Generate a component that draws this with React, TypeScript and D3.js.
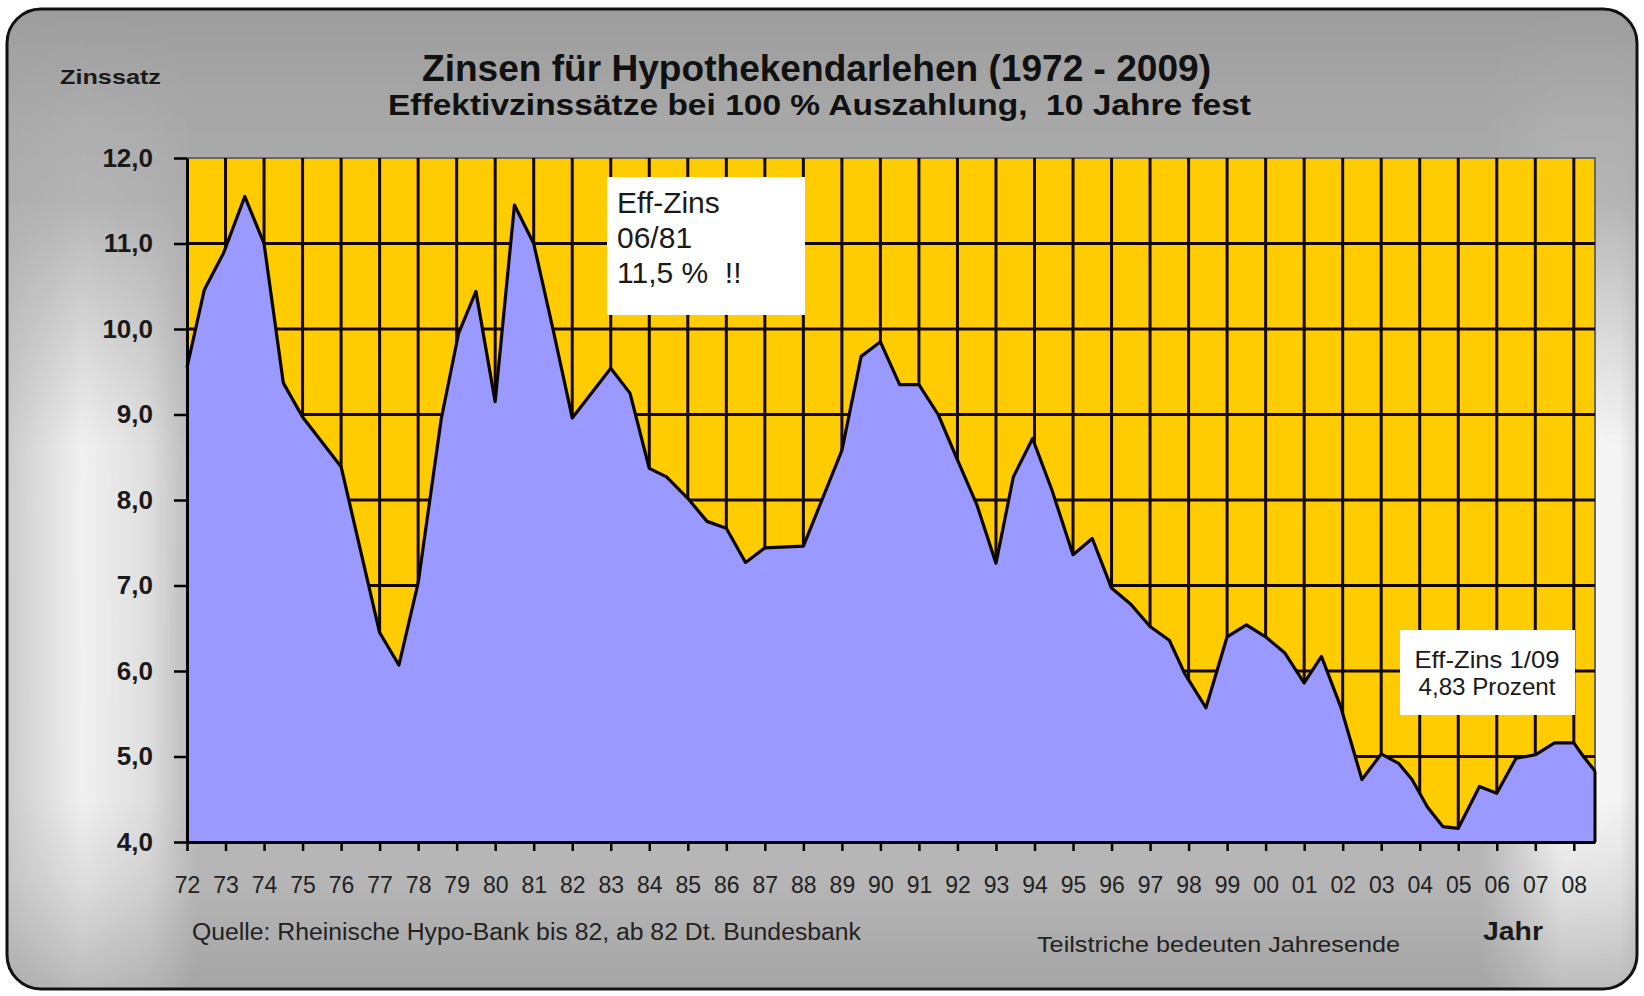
import React, { useRef, useEffect } from 'react';
import * as d3 from 'd3';

// Zeitpunkte (Dezimaljahr) und Effektivzins in Prozent
const zeitpunkte = [
  1972.0, 1972.45, 1972.95, 1973.5, 1974.0, 1974.5, 1975.0, 1976.0, 1977.0, 1977.5,
  1978.0, 1978.6, 1979.05, 1979.5, 1980.0, 1980.5, 1981.0, 1981.5, 1982.0, 1983.0,
  1983.5, 1984.0, 1984.45, 1985.0, 1985.5, 1986.0, 1986.5, 1987.0, 1988.0, 1989.0,
  1989.5, 1990.0, 1990.5, 1991.0, 1991.5, 1992.0, 1992.5, 1993.0, 1993.45, 1993.95,
  1994.45, 1995.0, 1995.5, 1996.0, 1996.5, 1997.0, 1997.5, 1997.9, 1998.45, 1999.0,
  1999.5, 2000.0, 2000.5, 2001.0, 2001.45, 2001.95, 2002.5, 2003.0, 2003.45, 2003.8,
  2004.2, 2004.6, 2005.0, 2005.55, 2006.0, 2006.5, 2007.0, 2007.5, 2008.0, 2008.25,
  2008.55
];

const zinssatz = [
  9.55, 10.46, 10.89, 11.55, 11.0, 9.37, 8.97, 8.39, 6.45, 6.07,
  7.03, 8.95, 9.95, 10.44, 9.15, 11.45, 11.0, 10.0, 8.96, 9.54,
  9.25, 8.37, 8.27, 8.02, 7.75, 7.67, 7.27, 7.44, 7.46, 8.58,
  9.68, 9.85, 9.35, 9.35, 9.0, 8.47, 7.95, 7.26, 8.27, 8.72,
  8.12, 7.36, 7.55, 6.97, 6.78, 6.52, 6.36, 5.97, 5.57, 6.4,
  6.54, 6.4, 6.21, 5.86, 6.17, 5.58, 4.73, 5.03, 4.92, 4.73,
  4.41, 4.18, 4.16, 4.65, 4.57, 4.98, 5.02, 5.16, 5.16, 5.0,
  4.83
];

const jahrLabels = [
  '72', '73', '74', '75', '76', '77', '78', '79', '80', '81', '82', '83', '84',
  '85', '86', '87', '88', '89', '90', '91', '92', '93', '94', '95', '96', '97',
  '98', '99', '00', '01', '02', '03', '04', '05', '06', '07', '08'
];

const zinsTicks = [4, 5, 6, 7, 8, 9, 10, 11, 12];

const WIDTH = 1644;
const HEIGHT = 996;

export default function App() {
  const svgRef = useRef<SVGSVGElement>(null);

  useEffect(() => {
    if (!svgRef.current) return;
    const svg = d3.select(svgRef.current);
    svg.selectAll('*').remove();

    const left = 187, right = 1595, top = 158, bottom = 842;
    const x = d3.scaleLinear().domain([1972, 2008.55]).range([left, right]);
    const y = d3.scaleLinear().domain([4, 12]).range([bottom, top]);
    const font = 'Liberation Sans, Arial, sans-serif';

    // Hintergrund-Verlaeufe
    const defs = svg.append('defs');
    const bgV = defs.append('linearGradient').attr('id', 'bgV')
      .attr('x1', 0).attr('y1', 0).attr('x2', 0).attr('y2', 1);
    [[0, '#9c9c9c'], [0.12, '#a8a8a8'], [0.5, '#b8b8b8'], [0.88, '#b6b6b6'], [1, '#a4a4a4']]
      .forEach(([o, c]) => bgV.append('stop').attr('offset', o as number).attr('stop-color', c as string));
    const bgH = defs.append('linearGradient').attr('id', 'bgH')
      .attr('x1', 0).attr('y1', 0).attr('x2', 1).attr('y2', 0);
    [[0, 0.25], [0.05, 0.8], [0.09, 0.55], [0.12, 0], [0.9, 0], [0.95, 0.9], [0.985, 0.85], [1, 0.4]]
      .forEach(([o, a]) => bgH.append('stop').attr('offset', o).attr('stop-color', '#fff').attr('stop-opacity', a));
    const fade = defs.append('linearGradient').attr('id', 'fadeV')
      .attr('x1', 0).attr('y1', 0).attr('x2', 0).attr('y2', 1);
    [[0, '#000'], [0.2, '#222'], [0.45, '#fff'], [0.8, '#fff'], [1, '#444']]
      .forEach(([o, c]) => fade.append('stop').attr('offset', o as number).attr('stop-color', c as string));
    defs.append('mask').attr('id', 'fadeMask')
      .append('rect').attr('x', 0).attr('y', 0).attr('width', WIDTH).attr('height', HEIGHT)
      .attr('fill', 'url(#fadeV)');
    defs.append('clipPath').attr('id', 'frameClip')
      .append('rect').attr('x', 7).attr('y', 9).attr('width', 1630).attr('height', 980).attr('rx', 34);

    svg.append('rect').attr('width', WIDTH).attr('height', HEIGHT).attr('fill', '#fff');
    const frame = svg.append('g').attr('clip-path', 'url(#frameClip)');
    frame.append('rect').attr('width', WIDTH).attr('height', HEIGHT).attr('fill', 'url(#bgV)');
    frame.append('rect').attr('width', WIDTH).attr('height', HEIGHT)
      .attr('fill', 'url(#bgH)').attr('mask', 'url(#fadeMask)');
    svg.append('rect').attr('x', 7).attr('y', 9).attr('width', 1630).attr('height', 980).attr('rx', 34)
      .attr('fill', 'none').attr('stroke', '#111').attr('stroke-width', 3);

    // Plotflaeche
    svg.append('rect').attr('x', left).attr('y', top)
      .attr('width', right - left).attr('height', bottom - top)
      .attr('fill', '#fecc00').attr('stroke', '#6e6a52').attr('stroke-width', 2);

    // Gitter
    const grid = svg.append('g').attr('stroke', '#140800').attr('stroke-width', 3);
    grid.selectAll('line.v')
      .data(d3.range(1, jahrLabels.length))
      .enter().append('line')
      .attr('x1', (d) => x(1972 + d)).attr('x2', (d) => x(1972 + d))
      .attr('y1', top).attr('y2', bottom);
    grid.selectAll('line.h')
      .data(zinsTicks.slice(1, -1))
      .enter().append('line')
      .attr('x1', left).attr('x2', right)
      .attr('y1', (d) => y(d)).attr('y2', (d) => y(d));

    // Flaeche und Linie
    const punkte: [number, number][] = zeitpunkte.map((t, i) => [t, zinssatz[i]]);
    const area = d3.area<[number, number]>()
      .x((d) => x(d[0])).y0(y(4)).y1((d) => y(d[1]));
    svg.append('path').datum(punkte).attr('d', area).attr('fill', '#9999ff');
    const line = d3.line<[number, number]>().x((d) => x(d[0])).y((d) => y(d[1]));
    svg.append('path').datum(punkte).attr('d', line)
      .attr('fill', 'none').attr('stroke', '#0a0500').attr('stroke-width', 3.2)
      .attr('stroke-linejoin', 'round');
    const last = punkte[punkte.length - 1];
    svg.append('line').attr('x1', x(last[0])).attr('x2', x(last[0]))
      .attr('y1', y(last[1])).attr('y2', y(4))
      .attr('stroke', '#0a0500').attr('stroke-width', 3);

    // Achsen
    const xAxis = svg.append('g').attr('transform', `translate(0,${bottom})`)
      .call(d3.axisBottom(x)
        .tickValues(d3.range(0, jahrLabels.length).map((i) => 1972 + i))
        .tickFormat((d, i) => jahrLabels[i])
        .tickSize(9).tickSizeOuter(0).tickPadding(26));
    xAxis.select('.domain').attr('stroke', '#000').attr('stroke-width', 3);
    xAxis.selectAll('.tick line').attr('stroke', '#000').attr('stroke-width', 2.5);
    xAxis.selectAll('.tick text')
      .attr('fill', '#222').attr('font-size', 23)
      .attr('font-family', 'Liberation Sans Narrow, Arial Narrow, ' + font);

    const yAxis = svg.append('g').attr('transform', `translate(${left},0)`)
      .call(d3.axisLeft(y)
        .tickValues(zinsTicks)
        .tickFormat((d) => (d as number).toFixed(1).replace('.', ','))
        .tickSize(13).tickSizeOuter(0).tickPadding(21));
    yAxis.select('.domain').attr('stroke', '#000').attr('stroke-width', 3);
    yAxis.selectAll('.tick line').attr('stroke', '#000').attr('stroke-width', 2.5);
    yAxis.selectAll('.tick text')
      .attr('fill', '#1a1a1a').attr('font-size', 26).attr('font-weight', 'bold')
      .attr('font-family', font);

    // Titel und Beschriftungen
    const txt = (s: string, tx: number, ty: number, size: number, opts: any = {}) => {
      const t = svg.append('text').attr('x', tx).attr('y', ty)
        .attr('font-family', opts.family || font).attr('font-size', size)
        .attr('font-weight', opts.bold ? 'bold' : 'normal')
        .attr('fill', opts.fill || '#111')
        .attr('text-anchor', opts.anchor || 'start')
        .style('white-space', 'pre')
        .text(s);
      if (opts.len) t.attr('textLength', opts.len).attr('lengthAdjust', 'spacingAndGlyphs');
      return t;
    };

    txt('Zinsen für Hypothekendarlehen (1972 - 2009)', 422, 81, 37, { bold: true, len: 789 });
    txt('Effektivzinssätze bei 100 % Auszahlung,  10 Jahre fest', 388, 115, 30, { bold: true, len: 863 });
    txt('Zinssatz', 60, 84, 21, { bold: true, len: 101, fill: '#1a1a1a' });
    txt('Quelle: Rheinische Hypo-Bank bis 82, ab 82 Dt. Bundesbank', 192, 940, 23, { len: 669, fill: '#222' });
    txt('Teilstriche bedeuten Jahresende', 1037, 952, 22, { len: 363, fill: '#222' });
    txt('Jahr', 1483, 940, 26, { bold: true, len: 60, fill: '#1a1a1a' });

    // Anmerkungen
    svg.append('rect').attr('x', 607).attr('y', 177).attr('width', 198).attr('height', 138).attr('fill', '#fff');
    txt('Eff-Zins', 617, 213, 30, { fill: '#1a1a1a' });
    txt('06/81', 617, 248, 30, { fill: '#1a1a1a' });
    txt('11,5 %  !!', 617, 283, 30, { fill: '#1a1a1a' });

    svg.append('rect').attr('x', 1400).attr('y', 630).attr('width', 175).attr('height', 85).attr('fill', '#fff');
    txt('Eff-Zins 1/09', 1487, 668, 24, { anchor: 'middle', len: 145, fill: '#1a1a1a' });
    txt('4,83 Prozent', 1487, 695, 24, { anchor: 'middle', len: 137, fill: '#1a1a1a' });
  }, []);

  return (
    <svg
      ref={svgRef}
      width={WIDTH}
      height={HEIGHT}
      style={{ position: 'absolute', left: 0, top: 0 }}
    />
  );
}
